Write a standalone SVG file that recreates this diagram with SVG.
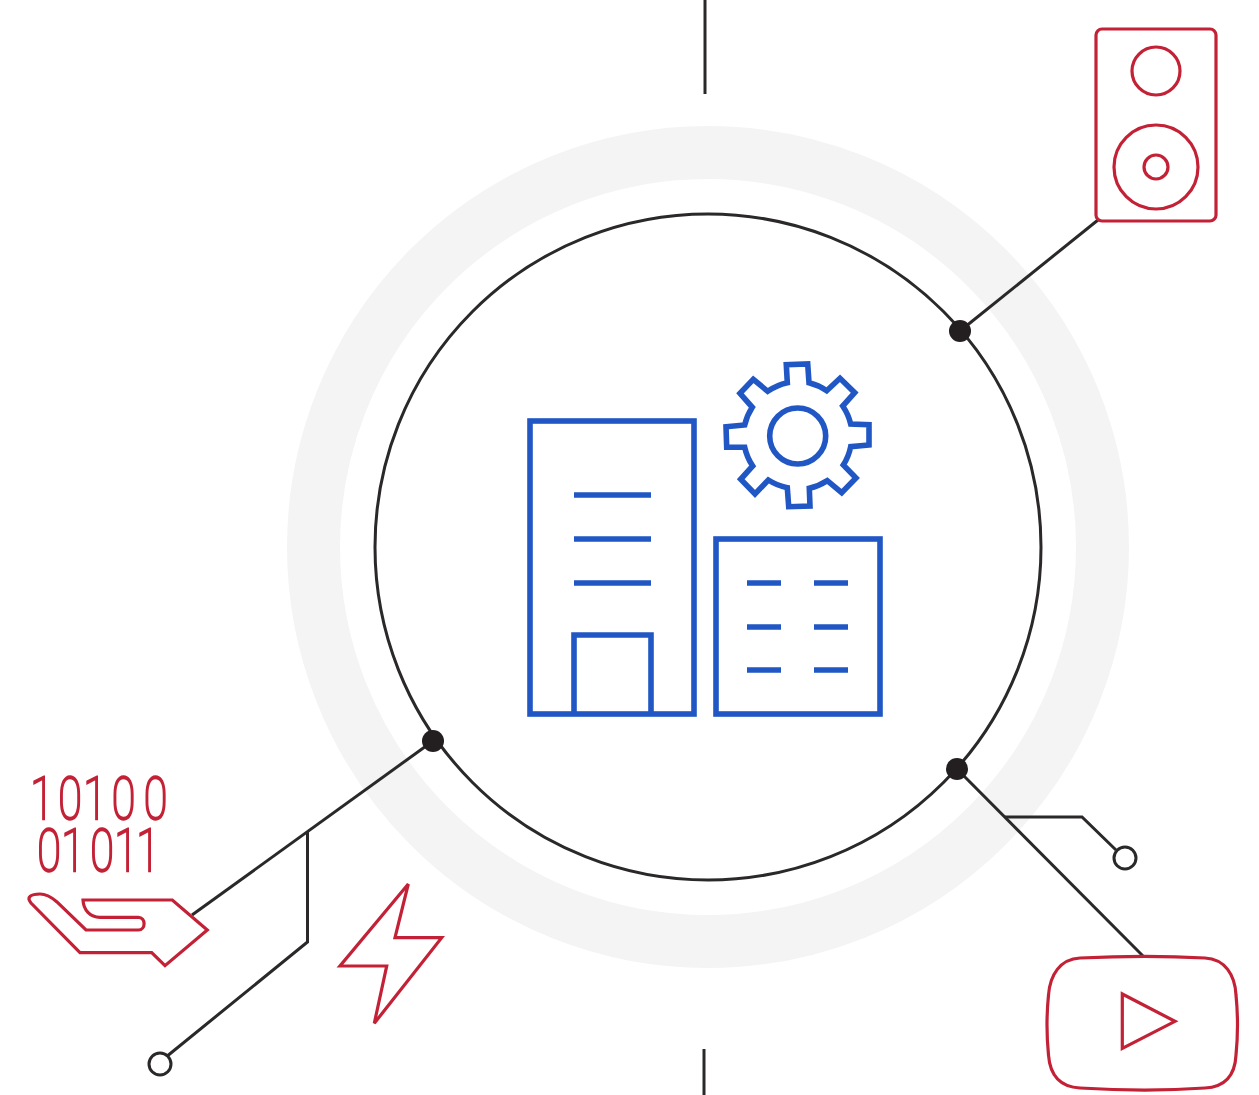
<svg xmlns="http://www.w3.org/2000/svg" width="1259" height="1095" viewBox="0 0 1259 1095">
<style>
.blue{fill:none;stroke:#2157c4;stroke-width:5.600}
.red{fill:none;stroke:#c32136;stroke-width:3.200;stroke-linejoin:miter}
.wire{fill:none;stroke:#2a2829;stroke-width:3}
.dot{fill:#231f20}
.end{fill:#fff;stroke:#2a2829;stroke-width:3}
.bits{font-family:"Roboto",sans-serif;font-weight:100;font-size:60px;fill:#c32136;stroke:#c32136;stroke-width:2.400;text-anchor:middle}
</style>
<rect width="1259" height="1095" fill="#fff"/>
<circle id="ring" cx="708" cy="547" r="394.5" fill="none" stroke="#f4f4f4" stroke-width="53"/>
<g id="connectors">
<path class="wire" d="M705 0V94"/>
<path class="wire" d="M704 1049V1095"/>
<path class="wire" d="M960 331L1098 220"/>
<path class="wire" d="M433 741L192 915"/>
<path class="wire" d="M307.500 832V942L166 1057"/>
<path class="wire" d="M957 769L1143 956"/>
<path class="wire" d="M1005 817H1082L1116 850"/>
</g>
<g id="hub">
<circle class="wire" cx="708" cy="547" r="333"/>
<circle class="dot" cx="960" cy="331" r="11"/>
<circle class="dot" cx="433" cy="741" r="11"/>
<circle class="dot" cx="957" cy="769" r="11"/>
</g>
<g id="end-left"><circle class="end" cx="160" cy="1064" r="11"/></g>
<g id="end-right"><circle class="end" cx="1125" cy="858" r="11"/></g>
<g id="buildings">
<rect class="blue" x="530" y="421" width="164" height="293"/>
<path class="blue" d="M574 495H651M574 539H651M574 583H651"/>
<path class="blue" d="M574 714V635H651V714"/>
<rect class="blue" x="716" y="539" width="164" height="175"/>
<path class="blue" d="M747 583H781M814 583H848M747 627H781M814 627H848M747 670H781M814 670H848"/>
</g>
<g id="gear">
<path class="blue" d="M787.300 382.700L786.300 364.700L807.700 364L809 382.700A55 55 0 0 1 826.700 390.700L840 378.300L854.700 392.700L842.700 406A55 55 0 0 1 850.700 424L869 424.700L869 445L850.700 446.700A55 55 0 0 1 843.300 465L856 478L841.700 492.700L827.300 480.700A55 55 0 0 1 809.300 488.300L810 506L788.700 506.700L787.300 487.700A55 55 0 0 1 768.300 480L755 494L740.700 479.300L752.700 466A55 55 0 0 1 744.700 447.300L726.700 447.300L726 426.700L744.700 425A55 55 0 0 1 752.300 407.300L740 393.300L753.300 379.300L767.700 391.300A55 55 0 0 1 787.300 382.700Z"/>
<circle class="blue" cx="797.700" cy="436" r="28"/>
</g>
<g id="speaker">
<rect class="red" x="1096" y="29" width="120" height="192" rx="6"/>
<circle class="red" cx="1156" cy="71" r="24"/>
<circle class="red" cx="1156" cy="167" r="42"/>
<circle class="red" cx="1156" cy="167" r="12"/>
</g>
<g id="binary-hand">
<text class="bits" transform="scale(.72 1)"><tspan x="58.300 97.200 131.900 171.500 216" y="819">10100</tspan><tspan x="68 101.400 141.700 175 205.600" y="871">01011</tspan></text>
<path class="red" d="M80 952.700H151.700L165 965.700L207.300 930L172.300 900H83C83.500 910 90 917.300 100 917.300H138.300C146 917.300 146 930 138.300 930H86L56.700 901.700C50 896 45 894 40 894C31 894 26 897 31 903Z"/>
</g>
<g id="bolt">
<path class="red" d="M408.300 884L395 937.700H441.700L374.300 1023.300L386.700 966H340Z"/>
</g>
<g id="video">
<path class="red" d="M1080 958C1120 956 1170 956 1205 958C1225 959 1235 975 1236 995C1238 1015 1238 1035 1236 1055C1235 1075 1225 1087 1205 1088C1170 1090.500 1120 1090.500 1080 1088C1060 1087 1050 1075 1048.500 1055C1046.500 1035 1046.500 1015 1048.500 995C1050 975 1060 959 1080 958Z"/>
<path class="red" d="M1122.300 994L1175 1021.300L1122.300 1048.300Z"/>
</g>
</svg>
